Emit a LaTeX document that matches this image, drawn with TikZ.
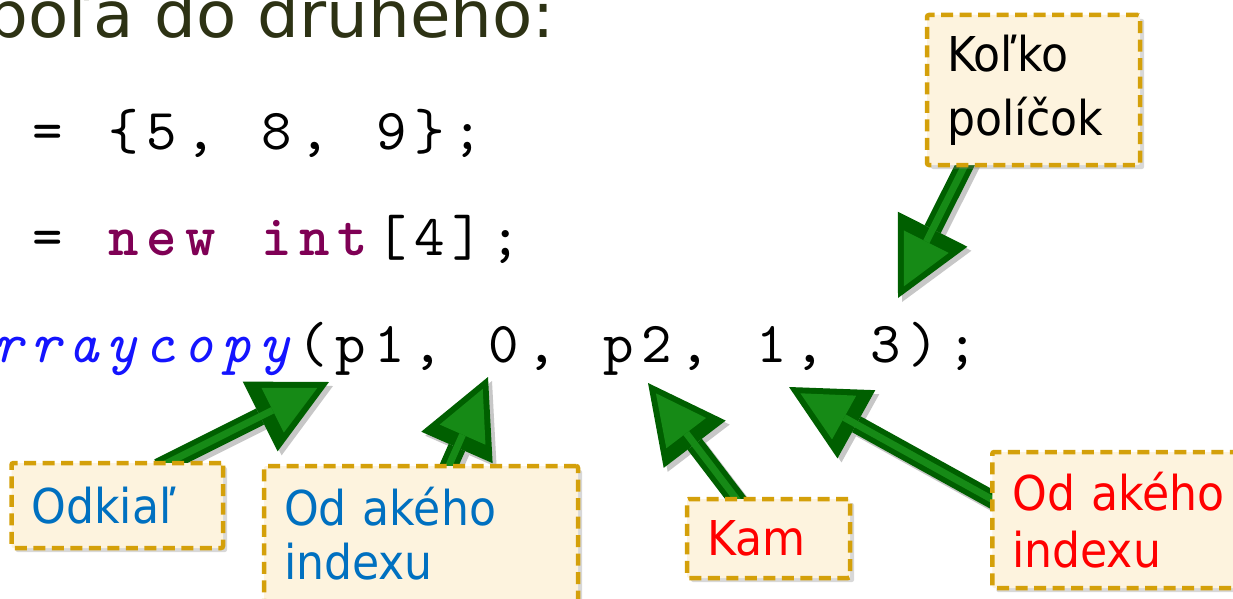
\documentclass[tikz,border=0pt]{standalone}
\usepackage{fontspec}
\usetikzlibrary{arrows.meta,shadows}
\newfontfamily\labfont{DejaVu Sans}[FakeStretch=0.92]
\newfontfamily\titlefont{DejaVu Sans}[FakeStretch=1.03]
\newfontfamily\codefont{lmmono10-regular}[Extension=.otf, BoldFont=lmmonolt10-bold, ItalicFont=lmmono10-italic]
\newcommand\mono[1]{\monoloop#1\relax}
\def\monoloop#1{\ifx#1\relax\else\makebox[38.2pt]{#1}\expandafter\monoloop\fi}
\definecolor{titlecol}{RGB}{45,50,20}
\definecolor{kw}{RGB}{127,0,85}
\definecolor{meth}{RGB}{20,20,255}
\definecolor{labblue}{RGB}{0,112,192}
\definecolor{labred}{RGB}{255,0,0}
\definecolor{boxfill}{RGB}{253,243,222}
\definecolor{boxline}{RGB}{212,160,10}
\definecolor{gdark}{RGB}{0,95,0}
\definecolor{glight}{RGB}{22,138,22}
\pgfdeclarelayer{bg}
\pgfsetlayers{bg,main}
\begin{document}
\begin{tikzpicture}[x=1pt,y=-1pt,
  callout/.style={draw=boxline, fill=boxfill, line width=4.5pt, dash pattern=on 12pt off 6.5pt,
    rounded corners=2pt, inner xsep=20pt, inner ysep=0pt, align=left,
    font=\labfont\fontsize{48}{58}\selectfont,
    drop shadow={opacity=0.3, shadow xshift=4pt, shadow yshift=-4pt}},
  code/.style={inner sep=0pt, anchor=base west, font=\codefont\fontsize{58}{70}\selectfont},
  arrshadow/.style={line width=18pt, color=black!22, shorten <=-15pt,
    transform canvas={xshift=4pt, yshift=-4pt},
    -{Triangle[length=77pt, width=78pt, line width=0pt]}},
  arrdark/.style={line width=18pt, color=gdark, shorten <=-15pt,
    -{Triangle[length=77pt, width=78pt, line width=0pt]}},
  arrlight/.style={line width=7pt, color=glight, shorten <=-15pt, shorten >=13pt,
    -{Triangle[length=50pt, width=50pt, line width=0pt]}}
]
\useasboundingbox (0,0) rectangle (1233,599);

% title and code
\node[inner sep=0pt, anchor=base west, text=titlecol,
  font=\titlefont\fontsize{64}{70}\selectfont] (title) at (-14,38) {poľa do druhého:};
\node[code] (c2) at (28.3,149) {\mono{=~\{5,~8,~9\};}};
\node[code] (c3) at (28.3,255) {\mono{=~}{\bfseries\color{kw}\mono{new~int}}\mono{[4];}};
\node[code] (c4) at (-12,362) {{\itshape\color{meth}\mono{rraycopy}}\mono{(p1,~0,~p2,~1,~3);}};

% callouts
\node[callout, minimum width=211.5pt, minimum height=85pt, text width=171.5pt, text=labblue]
  (b1) at (117.25,505.5) {Odkiaľ};
\node[callout, minimum width=314pt, minimum height=136pt, text width=274pt, text=labblue,
  font=\labfont\fontsize{48}{54}\selectfont]
  (b2) at (421,534) {Od akého\\indexu};
\node[callout, minimum width=163pt, minimum height=79pt, text width=123pt, text=labred]
  (b3) at (768.5,538.5) {Kam};
\node[callout, minimum width=270pt, minimum height=136pt, text width=230pt, text=labred,
  anchor=west, font=\labfont\fontsize{48}{57}\selectfont]
  (b4) at (990,520) {Od akého\\indexu};
\node[callout, minimum width=213pt, minimum height=150pt, text width=173pt, text=black,
  font=\labfont\fontsize{48}{64}\selectfont]
  (b5) at (1033.5,90) {Koľko\\políčok};

% arrow tips
\coordinate (t1) at (329,382);
\coordinate (t2) at (488,377);
\coordinate (t3) at (648,383);
\coordinate (t4) at (789,387);
\coordinate (t5) at (898,298);

\begin{pgfonlayer}{bg}
\fill[white] (0,0) rectangle (1233,599);
\draw[arrshadow] ([xshift=162.5pt]b1.north west) -- (t1);
\draw[arrshadow] ([xshift=188pt]b2.north west) -- (t2);
\draw[arrshadow] ([xshift=50pt]b3.north west) -- (t3);
\draw[arrshadow] ([yshift=-48.5pt]b4.north west) -- (t4);
\draw[arrshadow] ([xshift=39pt]b5.south west) -- (t5);
\draw[arrdark] ([xshift=162.5pt]b1.north west) -- (t1);
\draw[arrdark] ([xshift=188pt]b2.north west) -- (t2);
\draw[arrdark] ([xshift=50pt]b3.north west) -- (t3);
\draw[arrdark] ([yshift=-48.5pt]b4.north west) -- (t4);
\draw[arrdark] ([xshift=39pt]b5.south west) -- (t5);
\draw[arrlight] ([xshift=162.5pt]b1.north west) -- (t1);
\draw[arrlight] ([xshift=188pt]b2.north west) -- (t2);
\draw[arrlight] ([xshift=50pt]b3.north west) -- (t3);
\draw[arrlight] ([yshift=-48.5pt]b4.north west) -- (t4);
\draw[arrlight] ([xshift=39pt]b5.south west) -- (t5);
\end{pgfonlayer}
\end{tikzpicture}
\end{document}
